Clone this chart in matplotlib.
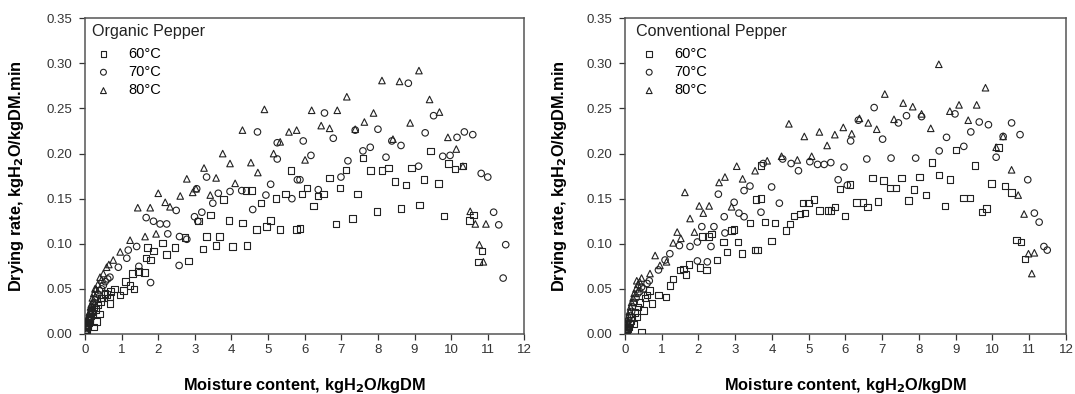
import matplotlib as mpl
mpl.use('Agg')
import matplotlib.pyplot as plt
import numpy as np

plt.rcParams['font.family'] = ['Liberation Sans', 'DejaVu Sans']

# Organic pepper (left panel)
org_60_x = [9.43, 9.93, 10.11, 10.32, 8.91, 8.29, 8.11, 7.79, 7.13, 7.59, 6.68, 6.06, 6.51, 6.36, 5.92, 6.97, 7.44,
            8.47, 8.77, 9.26, 9.65, 6.24, 6.86, 7.31, 7.97, 8.63, 9.13, 9.81, 10.5, 10.61, 10.84, 10.75, 5.87, 5.62,
            3.78, 3.43, 3.10, 2.46, 2.12, 1.87, 2.23, 2.73, 3.32, 3.67, 3.22, 3.58, 4.03, 4.42, 3.93, 4.30, 4.54,
            4.40, 4.69, 4.96, 5.07, 5.33, 5.78, 4.81, 5.21, 5.48, 2.82, 1.67, 1.46, 1.62, 1.34, 1.79, 1.23, 0.96,
            1.05, 0.68, 0.68, 0.39, 0.32, 0.23, 1.70, 0.03, 0.08, 0.12, 0.18, 0.25, 0.45, 0.55, 0.80, 1.10, 1.30,
            0.02, 0.05, 0.07, 0.10, 0.14, 0.16, 0.20, 0.28, 0.35, 0.42, 0.50, 0.60, 0.70]
org_60_y = [0.203, 0.189, 0.183, 0.186, 0.184, 0.184, 0.181, 0.181, 0.182, 0.195, 0.173, 0.162, 0.155, 0.153, 0.155,
            0.162, 0.155, 0.169, 0.165, 0.171, 0.167, 0.142, 0.122, 0.128, 0.136, 0.139, 0.143, 0.131, 0.126, 0.132,
            0.092, 0.080, 0.117, 0.181, 0.149, 0.132, 0.125, 0.096, 0.101, 0.092, 0.088, 0.107, 0.108, 0.108, 0.094,
            0.098, 0.097, 0.098, 0.126, 0.123, 0.159, 0.159, 0.116, 0.119, 0.126, 0.116, 0.116, 0.145, 0.150, 0.155,
            0.081, 0.084, 0.069, 0.068, 0.050, 0.082, 0.054, 0.043, 0.048, 0.034, 0.041, 0.022, 0.014, 0.008, 0.096,
            0.003, 0.010, 0.018, 0.025, 0.030, 0.040, 0.045, 0.050, 0.058, 0.067,
            0.002, 0.005, 0.008, 0.012, 0.016, 0.020, 0.022, 0.027, 0.032, 0.036, 0.040, 0.044, 0.047]
org_70_x = [6.54, 5.96, 6.78, 7.38, 8.00, 8.83, 9.52, 9.29, 8.38, 8.63, 7.59, 7.79, 8.22, 6.17, 7.18, 6.99, 6.37,
            9.11, 9.77, 9.97, 10.16, 10.36, 10.59, 10.82, 11.0, 11.16, 11.30, 11.49, 11.42, 5.87, 4.71, 5.25, 5.25,
            3.32, 3.05, 3.64, 3.96, 4.28, 5.07, 5.80, 5.65, 4.94, 4.58, 3.49, 2.99, 3.19, 3.08, 2.78, 2.58, 2.26,
            2.23, 2.05, 1.87, 1.67, 2.49, 2.57, 1.79, 1.47, 1.41, 1.18, 1.14, 0.91, 0.68, 0.50, 0.05, 0.10, 0.15,
            0.20, 0.25, 0.30, 0.40, 0.02, 0.04, 0.07, 0.12, 0.17, 0.22, 0.28, 0.35, 0.45, 0.55, 0.62]
org_70_y = [0.245, 0.214, 0.217, 0.226, 0.227, 0.278, 0.242, 0.223, 0.214, 0.209, 0.203, 0.207, 0.196, 0.198, 0.192,
            0.174, 0.160, 0.186, 0.197, 0.198, 0.218, 0.224, 0.221, 0.178, 0.174, 0.135, 0.121, 0.099, 0.062, 0.171,
            0.224, 0.212, 0.194, 0.174, 0.161, 0.156, 0.158, 0.159, 0.166, 0.171, 0.150, 0.154, 0.138, 0.145, 0.130,
            0.135, 0.125, 0.105, 0.108, 0.111, 0.122, 0.122, 0.125, 0.129, 0.137, 0.076, 0.057, 0.075, 0.097, 0.093,
            0.084, 0.074, 0.063, 0.054, 0.006, 0.015, 0.022, 0.030, 0.035, 0.040, 0.048, 0.003, 0.008, 0.012, 0.018,
            0.026, 0.033, 0.038, 0.044, 0.050, 0.058, 0.061]
org_80_x = [6.19, 6.89, 7.15, 8.11, 8.59, 9.12, 9.41, 9.68, 7.88, 6.45, 6.68, 7.38, 7.63, 8.88, 8.41, 9.91, 10.14,
            6.01, 10.52, 10.66, 10.95, 10.77, 10.88, 4.90, 4.30, 3.76, 3.96, 3.25, 4.53, 4.72, 5.57, 5.78, 5.33,
            5.15, 2.78, 3.58, 2.00, 2.60, 2.94, 3.03, 3.42, 4.10, 2.19, 2.32, 1.44, 1.78, 1.64, 1.94, 1.23, 0.96,
            0.77, 0.59, 0.41, 0.27, 10.32, 0.05, 0.10, 0.15, 0.20, 0.35, 0.02, 0.04, 0.07, 0.12, 0.17, 0.24, 0.30,
            0.45, 0.50, 0.65]
org_80_y = [0.248, 0.248, 0.263, 0.281, 0.280, 0.292, 0.260, 0.246, 0.245, 0.231, 0.228, 0.227, 0.235, 0.234, 0.216,
            0.218, 0.205, 0.193, 0.136, 0.122, 0.122, 0.099, 0.080, 0.249, 0.226, 0.200, 0.189, 0.184, 0.190, 0.179,
            0.224, 0.226, 0.213, 0.200, 0.172, 0.173, 0.156, 0.153, 0.157, 0.161, 0.154, 0.167, 0.146, 0.141, 0.140,
            0.140, 0.108, 0.111, 0.104, 0.091, 0.082, 0.074, 0.063, 0.050, 0.186, 0.010, 0.020, 0.030, 0.040, 0.055,
            0.004, 0.008, 0.014, 0.024, 0.033, 0.045, 0.050, 0.060, 0.067, 0.077]

# Conventional pepper (right panel)
con_60_x = [10.16, 9.01, 8.35, 9.52, 9.98, 10.34, 10.52, 8.54, 8.84, 8.01, 7.53, 7.03, 6.73, 7.21, 7.37, 7.86, 8.19,
            6.12, 5.85, 5.99, 6.30, 6.47, 6.60, 6.89, 7.71, 8.71, 9.21, 9.39, 9.71, 9.84, 10.66, 10.78, 10.88, 3.70,
            3.70, 3.56, 3.40, 2.97, 2.90, 2.68, 2.36, 2.27, 2.11, 3.08, 3.19, 3.54, 3.61, 3.99, 3.81, 4.08, 4.38,
            4.49, 4.60, 4.76, 4.90, 4.85, 4.99, 5.14, 5.29, 5.52, 5.60, 5.71, 2.77, 2.50, 2.22, 2.04, 1.74, 1.59,
            1.50, 1.66, 1.31, 1.22, 1.12, 0.91, 0.66, 0.73, 0.50, 0.45, 0.32, 0.23, 0.05, 0.10, 0.15,
            0.03, 0.08, 0.12, 0.18, 0.27, 0.35, 0.40, 0.55, 0.60]
con_60_y = [0.207, 0.204, 0.190, 0.187, 0.167, 0.164, 0.157, 0.176, 0.171, 0.174, 0.173, 0.170, 0.173, 0.162, 0.162,
            0.160, 0.154, 0.166, 0.161, 0.131, 0.146, 0.146, 0.141, 0.147, 0.148, 0.142, 0.151, 0.151, 0.135, 0.139,
            0.104, 0.102, 0.083, 0.187, 0.150, 0.149, 0.123, 0.116, 0.115, 0.102, 0.111, 0.108, 0.108, 0.102, 0.089,
            0.093, 0.093, 0.103, 0.124, 0.123, 0.115, 0.122, 0.131, 0.133, 0.134, 0.145, 0.145, 0.149, 0.137, 0.137,
            0.137, 0.141, 0.091, 0.082, 0.071, 0.074, 0.077, 0.072, 0.071, 0.066, 0.061, 0.054, 0.041, 0.043, 0.048,
            0.034, 0.026, 0.002, 0.019, 0.011, 0.004, 0.008, 0.015,
            0.002, 0.006, 0.012, 0.018, 0.024, 0.030, 0.035, 0.040, 0.043]
con_70_x = [6.78, 6.35, 7.44, 7.66, 8.07, 8.98, 9.64, 9.89, 10.52, 10.75, 9.41, 8.75, 7.01, 6.14, 5.96, 6.58, 7.24,
            7.91, 8.55, 9.22, 10.10, 10.29, 10.96, 11.14, 11.27, 11.40, 11.49, 4.29, 4.52, 4.72, 5.03, 5.24, 5.42,
            5.60, 5.80, 3.76, 2.54, 2.97, 3.24, 3.40, 3.99, 4.20, 3.70, 2.70, 3.10, 3.24, 2.72, 2.42, 2.09, 2.34,
            1.97, 1.77, 1.97, 2.24, 1.48, 1.22, 1.09, 0.91, 0.66, 6.05, 0.05, 0.10, 0.18, 0.25, 0.35, 0.50,
            0.03, 0.07, 0.13, 0.20, 0.30, 0.40, 0.45, 0.60]
con_70_y = [0.251, 0.237, 0.234, 0.242, 0.241, 0.244, 0.235, 0.232, 0.234, 0.221, 0.224, 0.218, 0.216, 0.214, 0.185,
            0.194, 0.195, 0.195, 0.203, 0.208, 0.196, 0.219, 0.171, 0.134, 0.124, 0.097, 0.093, 0.194, 0.189, 0.181,
            0.191, 0.188, 0.188, 0.190, 0.171, 0.189, 0.155, 0.146, 0.159, 0.164, 0.163, 0.145, 0.135, 0.130, 0.134,
            0.130, 0.112, 0.119, 0.119, 0.097, 0.102, 0.097, 0.081, 0.080, 0.098, 0.089, 0.082, 0.071, 0.059, 0.165,
            0.006, 0.015, 0.025, 0.035, 0.045, 0.050,
            0.003, 0.010, 0.020, 0.030, 0.040, 0.047, 0.052, 0.056]
con_80_x = [8.54, 9.81, 7.07, 7.57, 7.83, 9.09, 9.57, 8.84, 8.07, 9.34, 5.94, 6.17, 6.38, 6.62, 6.85, 7.32, 8.32,
            10.29, 10.10, 10.52, 10.70, 10.86, 10.98, 11.14, 11.07, 4.46, 4.88, 5.29, 5.71, 5.50, 3.04, 3.54, 3.20,
            2.72, 3.87, 4.26, 4.69, 5.08, 1.63, 2.56, 2.02, 2.29, 2.13, 1.77, 2.90, 1.89, 1.42, 1.31, 1.52, 0.82,
            0.68, 0.45, 0.32, 0.95, 1.13, 0.05, 0.10, 0.15, 0.22, 0.30,
            0.03, 0.07, 0.12, 0.18, 0.25, 0.35, 0.40]
con_80_y = [0.299, 0.273, 0.266, 0.256, 0.252, 0.254, 0.254, 0.247, 0.244, 0.237, 0.229, 0.222, 0.239, 0.234, 0.227,
            0.238, 0.228, 0.219, 0.207, 0.182, 0.154, 0.133, 0.089, 0.090, 0.067, 0.233, 0.219, 0.224, 0.221, 0.209,
            0.186, 0.181, 0.172, 0.174, 0.192, 0.197, 0.193, 0.197, 0.157, 0.168, 0.142, 0.142, 0.134, 0.128, 0.141,
            0.113, 0.113, 0.101, 0.106, 0.087, 0.067, 0.062, 0.059, 0.076, 0.080, 0.008, 0.020, 0.030, 0.040, 0.050,
            0.004, 0.012, 0.025, 0.035, 0.045, 0.055, 0.058]

labels = ['60°C', '70°C', '80°C']
markers = ['s', 'o', '^']
titles = ['Organic Pepper', 'Conventional Pepper']

panels = [
    [(org_60_x, org_60_y), (org_70_x, org_70_y), (org_80_x, org_80_y)],
    [(con_60_x, con_60_y), (con_70_x, con_70_y), (con_80_x, con_80_y)],
]

fig = plt.figure(figsize=(10.75, 3.94), dpi=100)
ax_pos = [[0.0791, 0.1523, 0.4087, 0.8013], [0.5814, 0.1523, 0.4102, 0.8013]]
# per-panel placement of the in-plot key (axes fractions)
title_x = [0.016, 0.024]
leg_x = [0.022, 0.035]
ylab_x = [-0.134, -0.127]

for k in range(2):
    ax = fig.add_axes(ax_pos[k])
    for i in range(3):
        xs, ys = panels[k][i]
        ax.scatter(xs, ys, s=22, marker=markers[i], facecolors='none', edgecolors='#222222',
                   linewidths=0.8, label=labels[i], zorder=3)
    ax.set_xlim(0, 12)
    ax.set_ylim(0, 0.35)
    ax.set_xticks(np.arange(0, 13, 1))
    ax.set_yticks(np.arange(0, 0.351, 0.05))
    ax.yaxis.set_major_formatter(mpl.ticker.FormatStrFormatter('%.2f'))
    ax.tick_params(axis='both', direction='out', length=4, width=0.9, labelsize=9.5, colors='#333333',
                   top=False, right=False)
    ax.tick_params(axis='y', pad=5)
    for sp in ax.spines.values():
        sp.set_color('#555555')
        sp.set_linewidth(1.1)
    ax.set_xlabel('Moisture content, kgH$_\\mathbf{2}$O/kgDM', fontsize=11.8, fontweight='bold', labelpad=14)
    ax.set_ylabel('Drying rate, kgH$_\\mathbf{2}$O/kgDM.min', fontsize=11.8, fontweight='bold')
    ax.yaxis.set_label_coords(ylab_x[k], 0.5)
    ax.text(title_x[k], 0.958, titles[k], transform=ax.transAxes, ha='left', va='center',
            fontsize=11.6, color='#222222')
    ax.legend(loc='upper left', bbox_to_anchor=(leg_x[k], 0.91), frameon=False, fontsize=10.5,
              borderaxespad=0, borderpad=0, handletextpad=1.1, labelspacing=0.3,
              handlelength=1.2, markerscale=0.9)

fig.savefig('out.png', dpi=100)
